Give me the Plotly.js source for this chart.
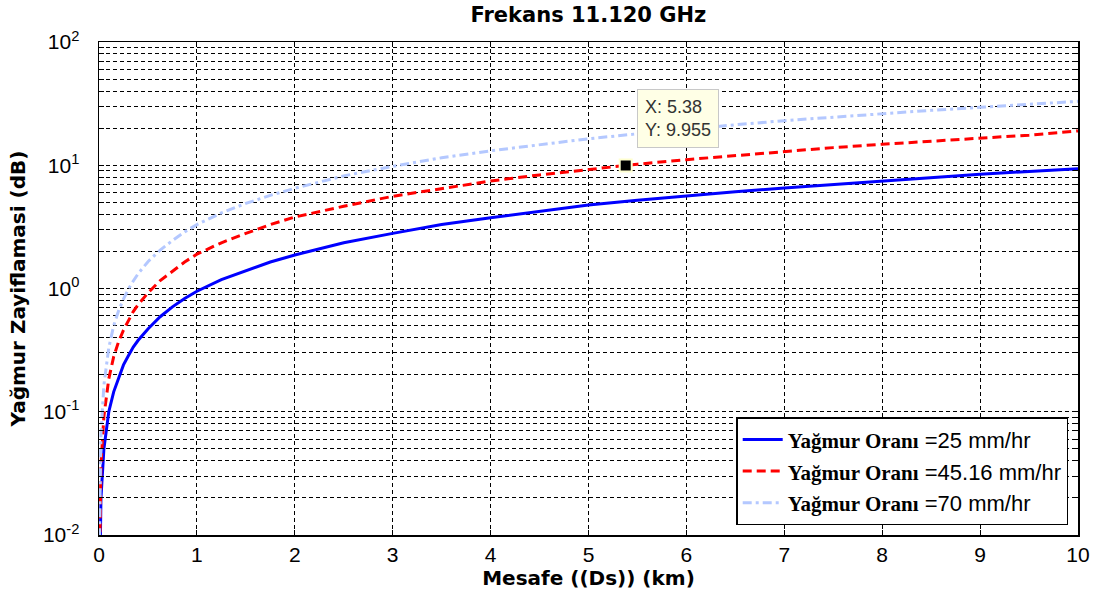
<!DOCTYPE html>
<html>
<head>
<meta charset="utf-8">
<script src="https://cdn.plot.ly/plotly-3.0.1.min.js"></script>
<style>
  html, body { margin: 0; padding: 0; background: #ffffff; }
  #chart { width: 1106px; height: 604px; }
</style>
</head>
<body>
<div id="chart"></div>
<script>
// Distance along the path (km)
const distanceKm = [0.002, 0.01, 0.02, 0.05, 0.1, 0.15, 0.2, 0.25, 0.3, 0.35, 0.4, 0.5, 0.625, 0.75, 0.875, 1, 1.25, 1.5, 1.75, 2, 2.5, 3, 3.5, 4, 4.5, 5, 5.5, 6, 6.5, 7, 7.5, 8, 8.5, 9, 9.5, 10];

// Rain attenuation (dB) for each rain rate
const att25 = [0.002, 0.01, 0.02, 0.05, 0.1, 0.145, 0.19, 0.24, 0.285, 0.335, 0.38, 0.47, 0.59, 0.71, 0.83, 0.95, 1.18, 1.4, 1.64, 1.87, 2.35, 2.8, 3.3, 3.75, 4.25, 4.75, 5.2, 5.65, 6.1, 6.55, 7.0, 7.5, 8.0, 8.45, 8.9, 9.35];
const att4516 = [0.0037, 0.019, 0.037, 0.092, 0.185, 0.28, 0.37, 0.46, 0.555, 0.65, 0.74, 0.92, 1.16, 1.39, 1.64, 1.9, 2.35, 2.8, 3.3, 3.8, 4.65, 5.6, 6.5, 7.45, 8.35, 9.25, 10.2, 11.1, 12.0, 12.95, 13.9, 14.8, 15.7, 16.65, 17.55, 19.0];
const att70 = [0.0066, 0.033, 0.066, 0.165, 0.33, 0.5, 0.66, 0.82, 0.99, 1.15, 1.32, 1.65, 2.05, 2.45, 2.88, 3.3, 4.1, 4.9, 5.7, 6.5, 8.2, 9.8, 11.5, 13.1, 14.7, 16.4, 18.0, 19.7, 21.3, 23.0, 24.6, 26.2, 27.9, 29.5, 31.2, 33.0];

// Series labels
const rainLabel = 'Yağmur Oranı';
const rainRates = ['=25 mm/hr', '=45.16 mm/hr', '=70 mm/hr'];

// Data cursor
const tipX = [5.38];
const tipY = [9.955];

// Axis ticks
const xTicks = [0, 1, 2, 3, 4, 5, 6, 7, 8, 9, 10];
const decades = [-2, -1, 0, 1, 2];

// Log grid: a line at every 1..9 × 10^n, labels only at decades
const yTickVals = [];
const yTickText = [];
decades.forEach(function (p, i) {
  const base = Math.pow(10, p);
  const last = i === decades.length - 1;
  for (let m = 1; m <= (last ? 1 : 9); m++) {
    yTickVals.push(m * base);
    yTickText.push(m === 1 ? '10<sup>' + p + '</sup>' : '');
  }
});

function legendName(rate) {
  return '<span style="font-family:\'Liberation Serif\',\'Times New Roman\',serif;font-weight:bold;font-size:21px">' +
    rainLabel + '</span> ' + rate;
}

const traces = [
  {
    x: distanceKm, y: att25, type: 'scatter', mode: 'lines',
    name: legendName(rainRates[0]),
    line: { color: '#0000ff', width: 3 }
  },
  {
    x: distanceKm, y: att4516, type: 'scatter', mode: 'lines',
    name: legendName(rainRates[1]),
    line: { color: '#ff0000', width: 3, dash: '9px,5px' }
  },
  {
    x: distanceKm, y: att70, type: 'scatter', mode: 'lines',
    name: legendName(rainRates[2]),
    line: { color: '#b4c8ff', width: 3, dash: '9px,4px,3px,4px' }
  },
  {
    x: tipX, y: tipY, type: 'scatter', mode: 'markers',
    showlegend: false, hoverinfo: 'skip',
    marker: { symbol: 'square', size: 12, color: '#000000', line: { color: '#ffffd0', width: 2 } }
  }
];

const gridDash = '4px,3px';
const boldFont = 'DejaVu Sans, Verdana, sans-serif';

const layout = {
  width: 1106,
  height: 604,
  margin: { l: 99, r: 28, t: 42, b: 69, pad: 0 },
  paper_bgcolor: '#ffffff',
  plot_bgcolor: '#ffffff',
  font: { family: 'Liberation Sans, Arial, sans-serif', size: 21, color: '#000000' },
  title: {
    text: '<b>Frekans 11.120 GHz</b>',
    font: { family: boldFont, size: 21, color: '#000000' },
    x: 0.532, xanchor: 'center',
    y: 1 - 15 / 604, yref: 'container', yanchor: 'middle'
  },
  xaxis: {
    range: [0, 10],
    tickvals: xTicks,
    ticks: 'inside', ticklen: 5, tickcolor: '#000000',
    showline: true, linecolor: '#000000', linewidth: 1.5, mirror: 'ticks',
    showgrid: true, gridcolor: '#000000', gridwidth: 1, griddash: gridDash,
    zeroline: false,
    tickfont: { size: 21, color: '#000000' },
    title: { text: '<b>Mesafe ((Ds)) (km)</b>', font: { family: boldFont, size: 20, color: '#000000' }, standoff: 6 }
  },
  yaxis: {
    type: 'log',
    range: [-2, 2],
    tickvals: yTickVals,
    ticktext: yTickText,
    ticks: 'inside', ticklen: 5, tickcolor: '#000000',
    ticklabelstandoff: 14,
    showline: true, linecolor: '#000000', linewidth: 1.5, mirror: 'ticks',
    showgrid: true, gridcolor: '#000000', gridwidth: 1, griddash: gridDash,
    zeroline: false,
    tickfont: { size: 21, color: '#000000' },
    title: { text: '<b>Yağmur Zayiflamasi (dB)</b>', font: { family: boldFont, size: 20, color: '#000000' }, standoff: 12 }
  },
  legend: {
    x: 0.99, xanchor: 'right',
    y: 0.02, yanchor: 'bottom',
    bgcolor: '#ffffff',
    bordercolor: '#000000', borderwidth: 1.5,
    font: { family: 'Liberation Sans, Arial, sans-serif', size: 22, color: '#000000' },
    itemwidth: 40,
    tracegroupgap: 0
  },
  annotations: [
    {
      x: 5.38, y: Math.log10(9.955), xref: 'x', yref: 'y',
      text: 'X: 5.38<br>Y: 9.955',
      showarrow: false,
      xanchor: 'left', yanchor: 'bottom',
      xshift: 11, yshift: 17,
      align: 'left',
      bgcolor: '#ffffe6',
      bordercolor: '#c8c8c8', borderwidth: 1, borderpad: 7,
      font: { family: 'Liberation Sans, Arial, sans-serif', size: 18, color: '#333333' }
    }
  ],
  showlegend: true
};

Plotly.newPlot('chart', traces, layout, { displayModeBar: false, staticPlot: true });
</script>
</body>
</html>
